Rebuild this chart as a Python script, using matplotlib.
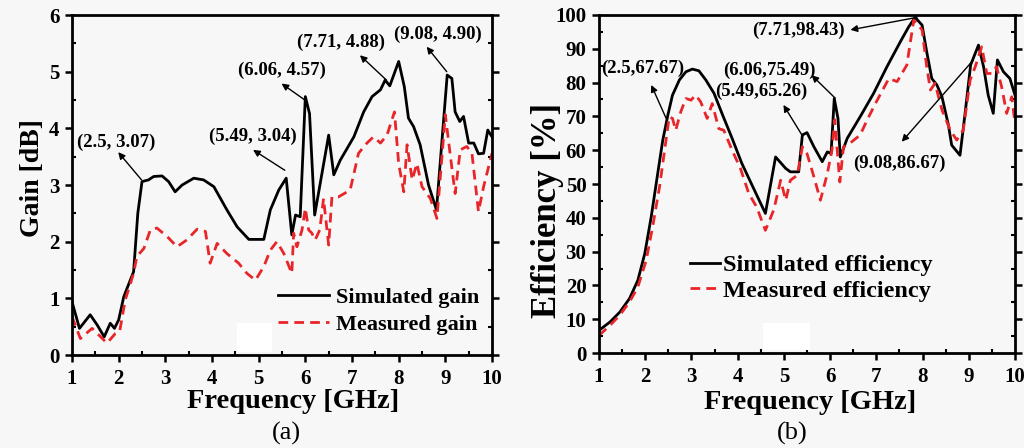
import matplotlib
matplotlib.use("Agg")
import matplotlib.pyplot as plt
from matplotlib.ticker import MultipleLocator
from matplotlib.patches import Rectangle

# ---------------- data ----------------
gain_sim_f = [1.0, 1.16, 1.39, 1.54, 1.69, 1.82, 1.91, 2.0, 2.11, 2.32, 2.41, 2.5, 2.64, 2.75,
              2.93, 3.07, 3.21, 3.36, 3.61, 3.82, 4.04, 4.32, 4.54, 4.79, 5.0, 5.11, 5.25, 5.43,
              5.59, 5.71, 5.79, 5.89, 6.0, 6.09, 6.2, 6.5, 6.61, 6.75, 7.04, 7.25, 7.43, 7.61,
              7.71, 7.81, 8.0, 8.12, 8.21, 8.32, 8.46, 8.64, 8.81, 9.04, 9.14, 9.21, 9.31, 9.39,
              9.5, 9.61, 9.71, 9.82, 9.91, 10.0]
gain_sim = [0.94, 0.47, 0.71, 0.53, 0.32, 0.56, 0.47, 0.62, 1.03, 1.47, 2.5, 3.06, 3.09, 3.15,
            3.16, 3.06, 2.88, 3.0, 3.12, 3.09, 2.97, 2.56, 2.26, 2.04, 2.04, 2.04, 2.56, 2.91,
            3.12, 2.12, 2.47, 2.44, 4.56, 4.26, 2.47, 3.88, 3.18, 3.44, 3.85, 4.29, 4.56, 4.68,
            4.85, 4.75, 5.18, 4.74, 4.18, 4.03, 3.71, 3.0, 2.56, 4.94, 4.88, 4.29, 4.12, 4.21,
            3.74, 3.74, 3.55, 3.56, 3.97, 3.85]

gain_mea_f = [1.0, 1.18, 1.43, 1.75, 1.93, 2.02, 2.14, 2.32, 2.39, 2.54, 2.68, 2.82, 3.04, 3.25,
              3.46, 3.68, 3.86, 3.96, 4.11, 4.32, 4.57, 4.75, 4.93, 5.11, 5.25, 5.39, 5.54, 5.71,
              5.75, 5.82, 5.93, 6.0, 6.07, 6.14, 6.21, 6.31, 6.39, 6.5, 6.57, 6.71, 6.96, 7.14,
              7.32, 7.46, 7.61, 7.75, 7.91, 8.0, 8.11, 8.18, 8.29, 8.39, 8.5, 8.68, 8.82, 9.0,
              9.11, 9.21, 9.32, 9.46, 9.57, 9.71, 9.82, 10.0]
gain_mea = [0.68, 0.29, 0.47, 0.21, 0.38, 0.41, 0.97, 1.44, 1.74, 1.88, 2.21, 2.24, 2.09, 1.91,
            2.03, 2.22, 2.18, 1.62, 1.97, 1.79, 1.62, 1.44, 1.32, 1.56, 1.85, 2.0, 1.79, 1.44,
            2.15, 1.91, 2.21, 2.59, 2.21, 2.15, 2.03, 2.21, 2.76, 1.94, 2.79, 2.79, 2.91, 3.56,
            3.74, 3.85, 3.74, 3.88, 4.29, 3.38, 2.88, 3.71, 3.09, 3.38, 2.97, 2.76, 2.41, 4.24,
            3.5, 2.85, 3.62, 3.68, 3.56, 2.53, 2.97, 3.56]

eff_sim_f = [1.0, 1.24, 1.45, 1.66, 1.84, 1.99, 2.13, 2.27, 2.38, 2.49, 2.59, 2.74, 2.88, 3.02,
             3.16, 3.31, 3.49, 3.66, 3.88, 4.09, 4.31, 4.6, 4.82, 5.04, 5.14, 5.32, 5.4, 5.5,
             5.65, 5.83, 5.94, 6.02, 6.09, 6.17, 6.22, 6.37, 6.65, 6.94, 7.23, 7.52, 7.7, 7.84,
             7.99, 8.09, 8.2, 8.31, 8.42, 8.56, 8.63, 8.81, 8.92, 9.04, 9.21, 9.32, 9.42, 9.53,
             9.62, 9.75, 9.89, 10.0]
eff_sim = [6.7, 9.2, 12.1, 16.1, 21.5, 29.4, 40.3, 53.1, 63.0, 70.4, 76.3, 80.8, 83.2, 84.0,
           83.5, 80.8, 76.8, 70.9, 63.5, 56.1, 49.7, 41.3, 58.0, 54.6, 53.6, 53.6, 64.5, 65.2,
           61.0, 56.6, 59.5, 59.0, 75.3, 69.4, 58.0, 63.5, 69.9, 76.8, 84.7, 92.1, 96.5, 99.3,
           97.0, 89.1, 81.2, 79.3, 75.8, 67.4, 61.5, 58.5, 70.9, 85.2, 91.1, 84.7, 76.3, 70.9,
           86.7, 83.2, 81.2, 76.3]

eff_mea_f = [1.0, 1.24, 1.45, 1.66, 1.84, 2.02, 2.16, 2.31, 2.45, 2.52, 2.59, 2.66, 2.77, 2.88,
             2.99, 3.09, 3.2, 3.34, 3.45, 3.59, 3.7, 3.88, 4.06, 4.24, 4.41, 4.6, 4.78, 4.93,
             5.04, 5.14, 5.29, 5.4, 5.5, 5.65, 5.79, 5.94, 6.04, 6.1, 6.21, 6.29, 6.47, 6.65,
             6.8, 6.98, 7.27, 7.45, 7.66, 7.81, 7.99, 8.09, 8.17, 8.27, 8.42, 8.6, 8.74, 8.88,
             9.03, 9.14, 9.28, 9.39, 9.5, 9.6, 9.71, 9.82, 9.93, 10.0]
eff_mea = [5.2, 8.2, 11.2, 15.1, 19.5, 27.4, 37.3, 49.2, 63.0, 69.9, 69.4, 65.9, 71.4, 75.3,
           74.8, 76.3, 74.3, 69.4, 73.8, 66.4, 65.9, 60.0, 54.6, 47.2, 43.2, 36.3, 42.3, 51.1,
           45.2, 51.1, 52.6, 61.0, 59.0, 52.1, 45.2, 53.1, 60.0, 69.0, 50.6, 61.0, 62.5, 64.5,
           68.9, 73.8, 81.2, 80.3, 85.2, 98.5, 95.6, 84.7, 77.8, 79.8, 71.9, 65.9, 63.0, 65.9,
           80.8, 84.7, 90.6, 82.7, 82.7, 84.7, 78.8, 70.9, 75.8, 67.9]

xticks = [1, 2, 3, 4, 5, 6, 7, 8, 9, 10]
gain_ticks = [0, 1, 2, 3, 4, 5, 6]
eff_ticks = [0, 10, 20, 30, 40, 50, 60, 70, 80, 90, 100]

gain_notes = ["(2.5, 3.07)", "(5.49, 3.04)", "(6.06, 4.57)", "(7.71, 4.88)", "(9.08, 4.90)"]
gain_note_xy = [(2.49, 3.09), (5.56, 3.26), (5.99, 4.50), (7.74, 4.85), (9.03, 5.00)]
gain_note_head = [(1.99, 3.58), (4.88, 3.62), (5.49, 4.79), (7.17, 5.29), (8.60, 5.44)]
gain_note_text = [(1.94, 3.76), (4.87, 3.85), (5.50, 5.03), (6.76, 5.52), (8.84, 5.65)]

eff_notes = ["(2.5,67.67)", "(5.49,65.26)", "(6.06,75.49)", "(7.71,98.43)", "(9.08,86.67)"]
eff_note_xy = [(2.45, 69.5), (5.39, 64.5), (6.11, 75.4), (7.88, 99.3), (9.10, 86.7)]
eff_note_head = [(2.13, 79.3), (4.99, 73.4), (5.60, 82.2), (6.44, 95.6), (7.55, 62.5)]
eff_note_text = [(1.94, 84.3), (4.51, 77.5), (4.68, 83.7), (5.31, 95.6), (7.49, 56.2)]

BG = "#f7f7f7"
RED = "#e8262a"
plt.rcParams["font.family"] = ["Liberation Serif", "DejaVu Serif"]
plt.rcParams["font.weight"] = "bold"

fig = plt.figure(figsize=(10.24, 4.48), dpi=100, facecolor=BG)
ax1 = fig.add_axes([72 / 1024, 1 - 355 / 448, 420 / 1024, 340 / 448])
ax2 = fig.add_axes([599 / 1024, 1 - 353 / 448, 416 / 1024, 338 / 448])


def style(ax, yticks, ymax, yminor):
    ax.set_facecolor(BG)
    ax.set_xlim(1, 10)
    ax.set_ylim(0, ymax)
    ax.set_xticks(xticks)
    ax.set_yticks(yticks)
    ax.xaxis.set_minor_locator(MultipleLocator(0.5))
    ax.yaxis.set_minor_locator(MultipleLocator(yminor))
    for s in ax.spines.values():
        s.set_linewidth(2.0)
    ax.tick_params(which="major", direction="out", length=5, width=1.8, labelsize=15)
    ax.tick_params(axis="x", which="major", pad=5)
    ax.tick_params(axis="y", which="major", pad=4, right=True)
    ax.tick_params(which="minor", direction="in", length=3, width=1.5, right=True)
    for lab in ax.get_xticklabels() + ax.get_yticklabels():
        lab.set_fontweight("bold")


style(ax1, gain_ticks, 6, 0.5)
style(ax2, eff_ticks, 100, 5)

ax1.plot(gain_sim_f, gain_sim, color="black", lw=2.0, label="Simulated gain")
ax1.plot(gain_mea_f, gain_mea, color=RED, lw=2.0, dashes=(3.5, 2.2), label="Measured gain")
ax2.plot(eff_sim_f, eff_sim, color="black", lw=2.0, label="Simulated efficiency")
ax2.plot(eff_mea_f, eff_mea, color=RED, lw=2.0, dashes=(3.5, 2.2), label="Measured efficiency")

ax1.set_xlabel("Frequency [GHz]", fontsize=20.5, fontweight="bold", va="center")
ax1.xaxis.set_label_coords(0.526, -0.138)
ax2.set_xlabel("Frequency [GHz]", fontsize=20.5, fontweight="bold", va="center")
ax2.xaxis.set_label_coords(0.507, -0.145)
ax1.set_ylabel("Gain [dB]", fontsize=20, fontweight="bold", va="center")
ax1.yaxis.set_label_coords(-0.095, 0.52)
ax2.set_ylabel("Efficiency [%]", fontsize=25, fontweight="bold", va="center")
ax2.yaxis.set_label_coords(-0.123, 0.423)

arrow = dict(arrowstyle="-|>", color="black", lw=1.0, mutation_scale=10, shrinkA=0, shrinkB=0)
for txt, tail, head, tpos in zip(gain_notes, gain_note_xy, gain_note_head, gain_note_text):
    ax1.annotate("", xy=head, xytext=tail, arrowprops=arrow)
    ax1.text(tpos[0], tpos[1], txt, fontsize=13.5, fontweight="bold", ha="center", va="center")
for txt, tail, head, tpos in zip(eff_notes, eff_note_xy, eff_note_head, eff_note_text):
    ax2.annotate("", xy=head, xytext=tail, arrowprops=arrow)
    ax2.text(tpos[0], tpos[1], txt, fontsize=13.5, fontweight="bold", ha="center", va="center")

ax1.legend(bbox_to_anchor=(0.49, 0.129), loc="center left", frameon=False,
           prop={"weight": "bold", "size": 16}, handlelength=2.3, handletextpad=0.3,
           labelspacing=0.3, borderpad=0, borderaxespad=0)
ax2.legend(bbox_to_anchor=(0.219, 0.222), loc="center left", frameon=False,
           prop={"weight": "bold", "size": 17.5}, handlelength=1.25, handletextpad=0.1,
           labelspacing=0.15, borderpad=0, borderaxespad=0)

# white scan patches
fig.patches.append(Rectangle((237 / 1024, 1 - 352 / 448), 35 / 1024, 29 / 448,
                             transform=fig.transFigure, facecolor="white", edgecolor="none", zorder=0.5))
fig.patches.append(Rectangle((763 / 1024, 1 - 350 / 448), 47 / 1024, 27 / 448,
                             transform=fig.transFigure, facecolor="white", edgecolor="none", zorder=0.5))

fig.text(286 / 1024, 1 - 433 / 448, "(a)", fontsize=19, fontweight="normal", ha="center", va="center")
fig.text(792 / 1024, 1 - 433 / 448, "(b)", fontsize=19, fontweight="normal", ha="center", va="center")

fig.savefig("out.png", dpi=100, facecolor=BG)
